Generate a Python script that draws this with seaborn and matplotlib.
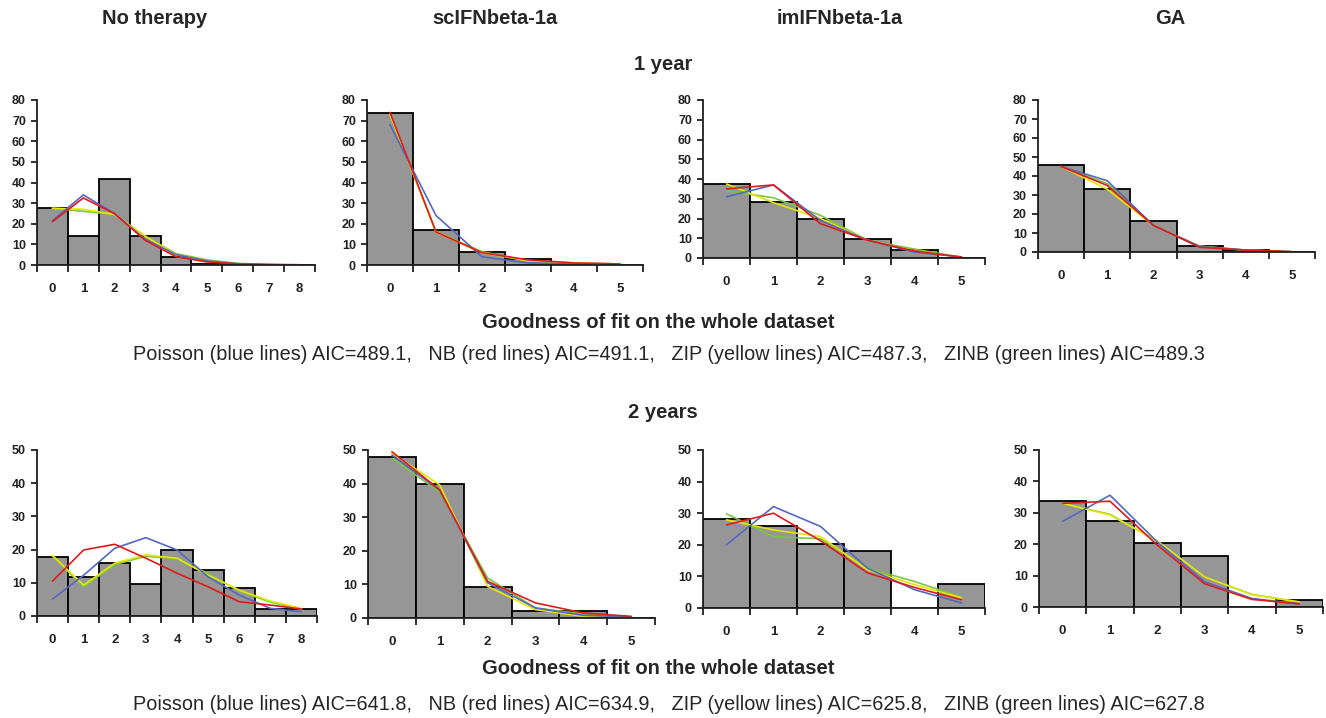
import numpy as np
import pandas as pd
from matplotlib import pyplot as plt
import seaborn as sns

# column headers (treatments)
treatments = ["No therapy", "scIFNbeta-1a", "imIFNbeta-1a", "GA"]

# number of relapses shown on each x axis
counts_1y = [list(range(9)), list(range(6)), list(range(6)), list(range(6))]
counts_2y = [list(range(9)), list(range(6)), list(range(6)), list(range(6))]

# observed % of patients (grey bars), 1 year
obs_1y = [
    [27.5, 14, 41.5, 14, 4, 0.5, 0.5, 0, 0],
    [73.5, 17, 6.5, 2.8, 0.4, 0],
    [37.7, 28.4, 19.6, 9.8, 4, 0],
    [45.7, 33.4, 16.4, 3.2, 0.8, 0],
]
# fitted curves, 1 year
poisson_1y = [
    [21.5, 34, 25, 12.5, 5, 2, 0.6, 0.2, 0.1],
    [68, 24, 4, 1, 0.5, 0.2],
    [31, 37, 19, 9, 3, 0.5],
    [45, 37.5, 14, 3, 1, 0.1],
]
nb_1y = [
    [21, 32.5, 25, 12, 4, 1.5, 0.5, 0.2, 0],
    [74, 16, 6, 2.5, 1, 0.5],
    [35, 37, 17.4, 9, 3.5, 0.5],
    [45, 35, 14, 2.5, 1, 0.2],
]
zip_1y = [
    [27.5, 27, 24.5, 14, 5, 2, 0.5, 0.2, 0.1],
    [73, 16, 6, 2, 1, 0.5],
    [37.5, 28, 20, 9, 3.5, 0.5],
    [45, 33, 14, 3, 1, 0.1],
]
zinb_1y = [
    [27.5, 26, 24.5, 14, 5.5, 2.5, 0.8, 0.2, 0.1],
    [73, 16, 6.5, 2, 1, 0.5],
    [34, 30.5, 21.6, 9, 4.5, 0.3],
    [45, 36, 14, 3, 1, 0.1],
]

# observed % of patients (grey bars), 2 years
obs_2y = [
    [17.9, 11.8, 15.9, 9.5, 19.9, 13.9, 8.3, 2.1, 2.1],
    [47.8, 39.8, 9.1, 2, 2, 0],
    [28.1, 26, 20.2, 18.1, 0, 7.7],
    [33.7, 27.3, 20.5, 16.3, 0, 2.1],
]
# fitted curves, 2 years
poisson_2y = [
    [5.1, 12.3, 20.4, 23.6, 19.9, 11.8, 6.3, 2.3, 1.3],
    [48.5, 38, 10.5, 3, 0.8, 0.3],
    [20, 32.1, 25.8, 12.6, 5.8, 1.6],
    [27.3, 35.6, 20.7, 8, 2.7, 1],
]
nb_2y = [
    [10.5, 19.9, 21.6, 17.4, 12.9, 8.8, 4.3, 3.3, 2.1],
    [49.5, 38.1, 10.9, 4.5, 1.5, 0.5],
    [26.3, 30, 21.3, 11.1, 6.5, 2.6],
    [33, 33.7, 19.7, 7.4, 2.4, 1],
]
zip_2y = [
    [18.2, 9.3, 15.9, 18.4, 17.4, 12.3, 7.8, 4.5, 2.3],
    [49, 39.6, 9.4, 2.5, 0.5, 0.3],
    [27.9, 24.7, 22.6, 12.1, 7.4, 3.2],
    [33, 29.3, 21, 9.6, 3.9, 1.6],
]
zinb_2y = [
    [18, 8.8, 15.5, 18, 17.2, 12.8, 7.5, 4.2, 2],
    [47.5, 37.5, 11.9, 3, 1.2, 0.3],
    [29.8, 22.6, 21.9, 12.6, 8.4, 3.4],
    [33, 29.5, 21, 9.6, 4, 1.6],
]

aic_1y = "Poisson (blue lines) AIC=489.1,   NB (red lines) AIC=491.1,   ZIP (yellow lines) AIC=487.3,   ZINB (green lines) AIC=489.3"
aic_2y = "Poisson (blue lines) AIC=641.8,   NB (red lines) AIC=634.9,   ZIP (yellow lines) AIC=625.8,   ZINB (green lines) AIC=627.8"

models = ["ZINB", "ZIP", "Poisson", "NB"]
model_colors = {"Poisson": "#5468c0", "NB": "#e01b1b", "ZIP": "#e6e600", "ZINB": "#7cc63e"}

sns.set_style("white")
plt.rcParams["font.family"] = ["Liberation Sans", "DejaVu Sans"]

W, H = 1326, 718
fig = plt.figure(figsize=(W / 100, H / 100), dpi=100)

# axes boxes in pixels: (left, top, right, bottom)
boxes_1y = [(37, 100, 315, 265), (367, 100, 643, 265), (703, 100, 985, 258), (1038, 100, 1315, 252)]
boxes_2y = [(37, 450, 317, 616), (368, 450, 655, 618), (703, 450, 985, 608), (1039, 450, 1323, 607)]


def panel(box, x, obs, fits, ymax):
    l, t, r, b = box
    ax = fig.add_axes([l / W, 1 - b / H, (r - l) / W, (b - t) / H])
    bars = pd.DataFrame({"n": x, "pct": obs})
    sns.barplot(data=bars, x="n", y="pct", color="#969696", width=1.0,
                edgecolor="black", linewidth=1.3, saturation=1, ax=ax)
    for m in models:
        d = pd.DataFrame({"n": np.arange(len(x)), "pct": fits[m]})
        sns.lineplot(data=d, x="n", y="pct", color=model_colors[m], lw=1.2, ax=ax)
    n = len(x)
    ax.set_xlim(-0.5, n - 0.5)
    ax.set_ylim(0, ymax)
    ax.set_xticks(np.arange(n + 1) - 0.5)
    ax.set_xticklabels([])
    ax.set_xticks(np.arange(n), minor=True)
    ax.set_xticklabels([str(v) for v in x], minor=True)
    ax.tick_params(axis="x", which="major", bottom=True, length=5, width=1.3,
                   color="#202020", direction="out")
    ax.tick_params(axis="x", which="minor", bottom=True, length=0, pad=13,
                   labelsize=9.5, labelcolor="#222222")
    ax.set_yticks(np.arange(0, ymax + 1, 10))
    ax.tick_params(axis="y", left=True, length=4, width=1.3, color="#202020", direction="out",
                   pad=4, labelsize=9, labelcolor="#222222")
    for lab in ax.get_yticklabels() + ax.get_xticklabels(minor=True):
        lab.set_fontweight("bold")
    ax.set_xlabel("")
    ax.set_ylabel("")
    sns.despine(ax=ax)
    for s in ["left", "bottom"]:
        ax.spines[s].set_color("#202020")
        ax.spines[s].set_linewidth(1.3)
    return ax


for i in range(4):
    panel(boxes_1y[i], counts_1y[i], obs_1y[i],
          {"Poisson": poisson_1y[i], "NB": nb_1y[i], "ZIP": zip_1y[i], "ZINB": zinb_1y[i]}, 80)
    panel(boxes_2y[i], counts_2y[i], obs_2y[i],
          {"Poisson": poisson_2y[i], "NB": nb_2y[i], "ZIP": zip_2y[i], "ZINB": zinb_2y[i]}, 50)

title_x = [155, 495, 840, 1170]
for t, xp in zip(treatments, title_x):
    fig.text(xp / W, 1 - 18 / H, t, ha="center", va="center", fontsize=14.5, fontweight="bold")

fig.text(0.5, 1 - 65 / H, "1 year", ha="center", va="center", fontsize=14.5, fontweight="bold")
fig.text(658 / W, 1 - 322 / H, "Goodness of fit on the whole dataset", ha="center", va="center",
         fontsize=14.5, fontweight="bold")
fig.text(669 / W, 1 - 355 / H, aic_1y, ha="center", va="center", fontsize=14.3)
fig.text(0.5, 1 - 412 / H, "2 years", ha="center", va="center", fontsize=14.5, fontweight="bold")
fig.text(658 / W, 1 - 668 / H, "Goodness of fit on the whole dataset", ha="center", va="center",
         fontsize=14.5, fontweight="bold")
fig.text(669 / W, 1 - 705 / H, aic_2y, ha="center", va="center", fontsize=14.3)

fig.savefig("out.png", dpi=100)
